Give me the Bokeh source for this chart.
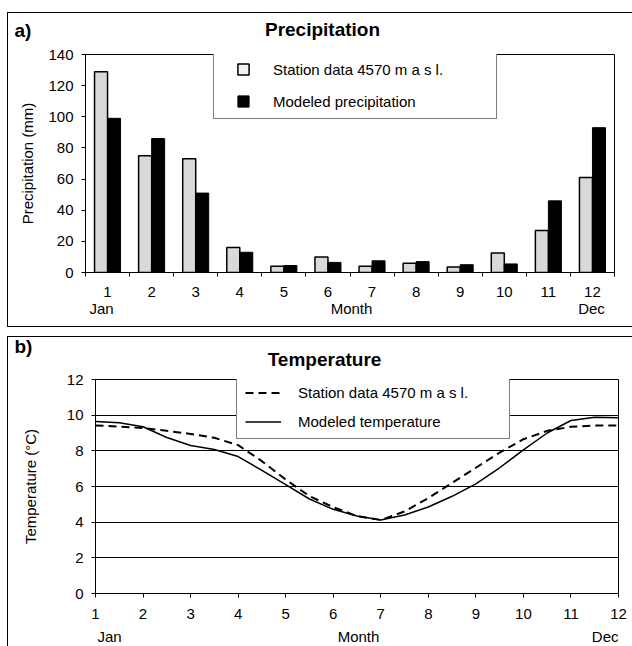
from bokeh.plotting import figure
from bokeh.models import Range1d, FixedTicker, Legend, LegendItem, Label, ColumnDataSource
from bokeh.transform import dodge
from bokeh.embed import file_html
from bokeh.resources import INLINE

# ---------------- data ----------------
months = [1, 2, 3, 4, 5, 6, 7, 8, 9, 10, 11, 12]
station_precip = [129, 75, 73, 16, 4, 10, 4, 6, 3.5, 12.5, 27, 61]
modeled_precip = [99, 86, 51, 13, 4.5, 6.5, 7.5, 7, 5, 5.5, 46, 93]
precip_ticks = [0, 20, 40, 60, 80, 100, 120, 140]

temp_month = [1.0, 1.5, 2.0, 2.5, 3.0, 3.5, 4.0, 4.5, 5.0, 5.5, 6.0, 6.5,
              7.0, 7.5, 8.0, 8.5, 9.0, 9.5, 10.0, 10.5, 11.0, 11.5, 12.0]
station_temp = [9.42, 9.36, 9.28, 9.12, 8.95, 8.73, 8.32, 7.42, 6.39, 5.46, 4.84, 4.34,
                4.12, 4.6, 5.35, 6.2, 7.05, 7.9, 8.65, 9.12, 9.35, 9.42, 9.42]
modeled_temp = [9.65, 9.58, 9.35, 8.75, 8.3, 8.08, 7.68, 6.9, 6.1, 5.3, 4.72, 4.35,
                4.12, 4.4, 4.85, 5.45, 6.15, 7.05, 8.05, 9.0, 9.7, 9.88, 9.85]
temp_ticks = [0, 2, 4, 6, 8, 10, 12]

FONT = "Liberation Sans"
W = 632

# CSS panel frame lines (left edge at x=7), painted through transparent canvas borders
LEFT_ONLY = "inset 7px 0 0 0 white, inset 8px 0 0 0 black"


def style_axes(p):
    for ax in (p.xaxis[0], p.yaxis[0]):
        ax.axis_line_color = "black"
        ax.axis_line_width = 1
        ax.major_label_text_font = FONT
        ax.major_label_text_font_size = "15px"
        ax.major_label_text_color = "black"
        ax.axis_label_text_font = FONT
        ax.axis_label_text_font_size = "15px"
        ax.axis_label_text_font_style = "normal"
        ax.axis_label_text_color = "black"
        ax.major_tick_line_color = "black"
        ax.major_tick_in = 0
        ax.major_tick_out = 4
        ax.minor_tick_line_color = None
    p.outline_line_color = "black"
    p.outline_line_width = 1
    p.background_fill_color = "white"
    p.border_fill_color = None


def text_strip(height, y_top, shadow):
    """A strip of free text; its data coordinates are page pixels."""
    f = figure(width=W, height=height, x_range=Range1d(0, W), y_range=Range1d(y_top + height, y_top),
               x_axis_type=None, y_axis_type=None, output_backend="svg", toolbar_location=None,
               min_border=0)
    f.grid.visible = False
    f.outline_line_color = None
    f.background_fill_color = None
    f.border_fill_color = None
    f.styles = {"box-shadow": shadow}
    return f


def add_text(p, x, y, txt, size="15px", bold=False, align="center"):
    p.add_layout(Label(x=x, y=y, text=txt, text_font=FONT, text_font_size=size,
                       text_font_style="bold" if bold else "normal",
                       text_align=align, text_baseline="middle", text_color="black"))


# ---------------- panel a: header ----------------
h1 = text_strip(44, 0, "inset 7px 12px 0 0 white, inset 8px 13px 0 0 black")
add_text(h1, 14, 30, "a)", size="19px", bold=True, align="left")
add_text(h1, 322, 29, "Precipitation", size="19px", bold=True)

# ---------------- panel a: chart (page y 44..299) ----------------
p1 = figure(width=W, height=255, x_range=Range1d(0.5, 12.5), y_range=Range1d(0, 140),
            output_backend="svg", toolbar_location=None,
            min_border_left=85, min_border_right=18, min_border_top=10, min_border_bottom=27)
style_axes(p1)
p1.styles = {"box-shadow": LEFT_ONLY}
p1.xgrid.visible = False
p1.ygrid.visible = False
p1.yaxis.ticker = FixedTicker(ticks=precip_ticks)
p1.yaxis.axis_label = "Precipitation (mm)"
p1.yaxis.axis_label_standoff = 9
p1.yaxis.major_label_standoff = 8
p1.xaxis.ticker = FixedTicker(ticks=months, minor_ticks=[m - 0.5 for m in months] + [months[-1] + 0.5])
p1.xaxis.major_tick_line_color = None
p1.xaxis.major_tick_out = 0
p1.xaxis.minor_tick_line_color = "black"
p1.xaxis.minor_tick_in = 0
p1.xaxis.minor_tick_out = 4
p1.xaxis.major_label_standoff = 10

src = ColumnDataSource(dict(month=months, station=station_precip, modeled=modeled_precip))
p1.vbar(x=dodge("month", -0.1475, range=p1.x_range), top="station", width=0.295, source=src,
        fill_color="#d9d9d9", line_color="black", line_width=1.5)
p1.vbar(x=dodge("month", 0.1475, range=p1.x_range), top="modeled", width=0.295, source=src,
        fill_color="black", line_color="black", line_width=1)

# square legend keys (hidden in the plot, shown only in the legend)
leg_st = p1.scatter(x="month", y="station", source=src, marker="square",
                    fill_color="#f2f2f2", line_color="black", line_width=1.5, visible=False)
leg_md = p1.scatter(x="month", y="modeled", source=src, marker="square",
                    fill_color="black", line_color="black", line_width=1, visible=False)
legend1 = Legend(items=[LegendItem(label="Station data 4570 m a s l.", renderers=[leg_st]),
                        LegendItem(label="Modeled precipitation", renderers=[leg_md])],
                 location=(128, 153), orientation="vertical",
                 padding=3, margin=0, spacing=4,
                 glyph_width=52, glyph_height=28, label_height=28, label_standoff=4, label_width=220,
                 label_text_font=FONT, label_text_font_size="15px", label_text_color="black",
                 border_line_color="black", border_line_width=1,
                 background_fill_color="white", background_fill_alpha=1.0,
                 inactive_fill_alpha=0.0, click_policy="none")
p1.add_layout(legend1, "center")

# ---------------- panel a: footer (page y 299..336) ----------------
f1 = text_strip(37, 299, "inset 7px -9px 0 0 white, inset 8px -10px 0 0 black")
add_text(f1, 101, 308, "Jan")
add_text(f1, 351, 308, "Month")
add_text(f1, 591, 308, "Dec")

# ---------------- panel b: header (page y 336..370) ----------------
h2 = text_strip(34, 336, "inset 7px 0 0 0 white, inset 8px 1px 0 0 black")
add_text(h2, 14, 346, "b)", size="19px", bold=True, align="left")
add_text(h2, 324, 359, "Temperature", size="19px", bold=True)

# ---------------- panel b: chart (page y 370..625) ----------------
p2 = figure(width=W, height=255, x_range=Range1d(1, 12), y_range=Range1d(0, 12),
            output_backend="svg", toolbar_location=None,
            min_border_left=95, min_border_right=14, min_border_top=9, min_border_bottom=32)
style_axes(p2)
p2.styles = {"box-shadow": LEFT_ONLY}
p2.xgrid.visible = False
p2.ygrid.ticker = FixedTicker(ticks=temp_ticks)
p2.ygrid.grid_line_color = "black"
p2.ygrid.grid_line_width = 1
p2.yaxis.ticker = FixedTicker(ticks=temp_ticks)
p2.yaxis.axis_label = "Temperature (°C)"
p2.yaxis.axis_label_standoff = 25
p2.yaxis.major_label_standoff = 8
p2.xaxis.ticker = FixedTicker(ticks=months)
p2.xaxis.major_label_standoff = 11

r_st = p2.line(temp_month, station_temp, line_color="black", line_width=2, line_dash="8 5")
r_md = p2.line(temp_month, modeled_temp, line_color="black", line_width=1.5)
legend2 = Legend(items=[LegendItem(label="Station data 4570 m a s l.", renderers=[r_st]),
                        LegendItem(label="Modeled temperature", renderers=[r_md])],
                 location=(141, 154), orientation="vertical",
                 padding=8, margin=0, spacing=12,
                 glyph_width=36, glyph_height=17, label_height=17, label_standoff=17, label_width=203,
                 label_text_font=FONT, label_text_font_size="15px", label_text_color="black",
                 border_line_color="black", border_line_width=1,
                 background_fill_color="white", background_fill_alpha=1.0)
p2.add_layout(legend2, "center")

# ---------------- panel b: footer (page y 625..646) ----------------
f2 = text_strip(21, 625, LEFT_ONLY)
add_text(f2, 97, 636, "Jan", align="left")
add_text(f2, 358, 636, "Month")
add_text(f2, 618, 636, "Dec", align="right")

open("out.html", "w").write(file_html([h1, p1, f1, h2, p2, f2], INLINE))
